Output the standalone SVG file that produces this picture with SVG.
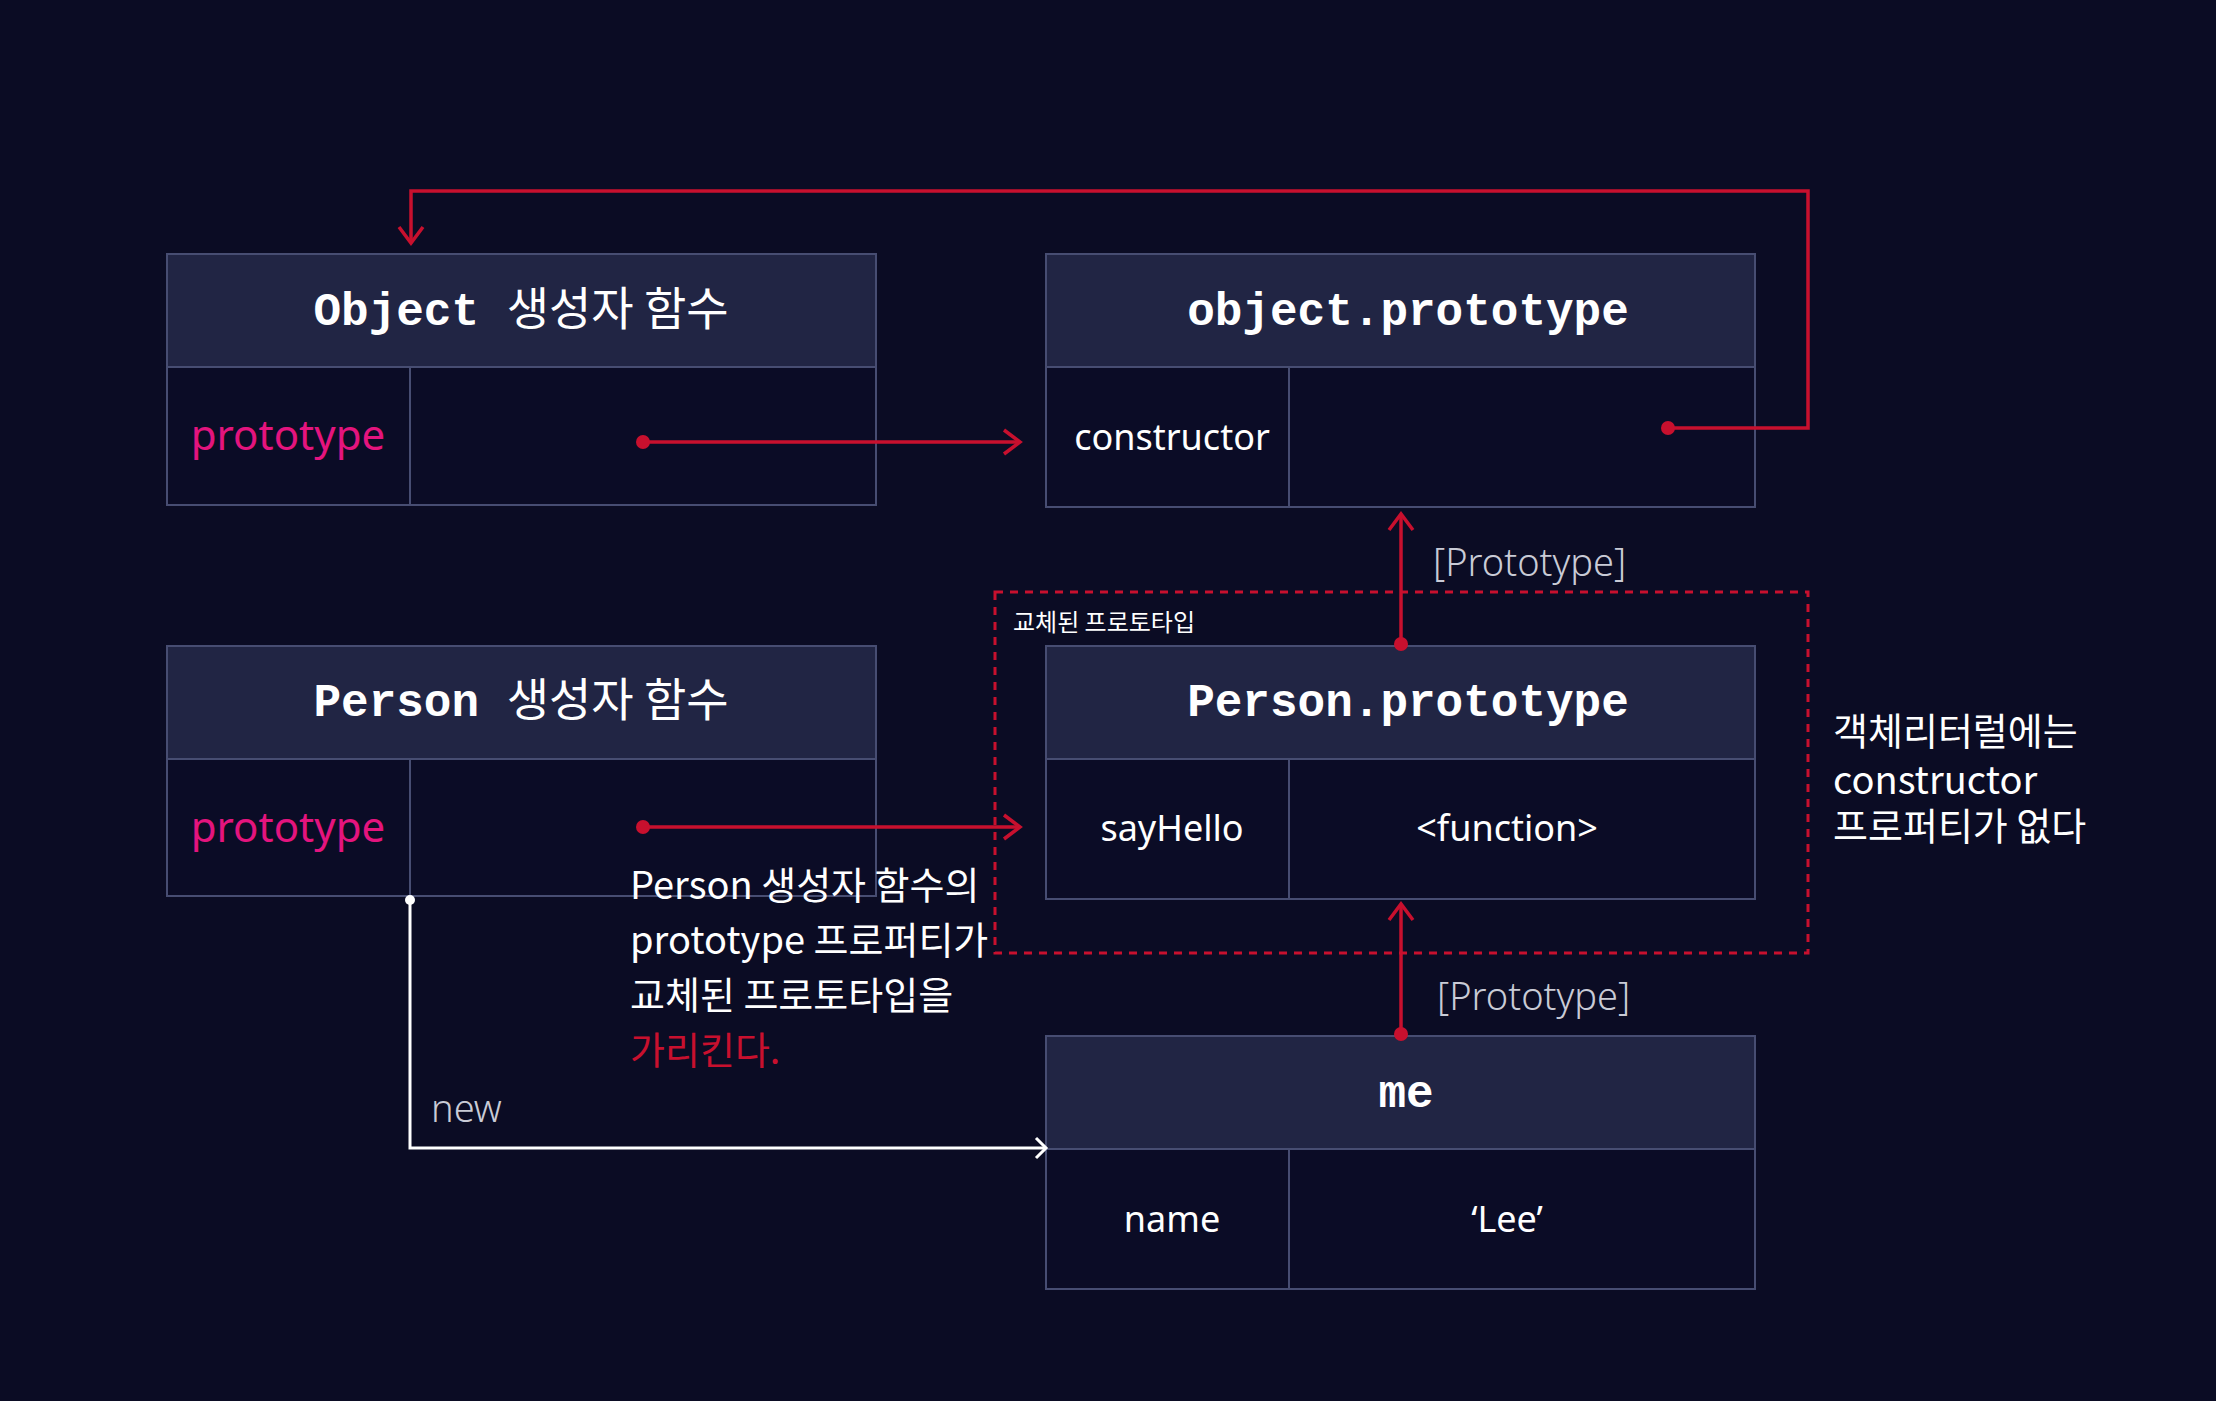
<svg xmlns="http://www.w3.org/2000/svg" width="2216" height="1401" viewBox="0 0 2216 1401">
<defs>
<style>
.box{fill:#0b0c26;stroke:#474d72;stroke-width:2}
.hd{fill:#212544;stroke:#474d72;stroke-width:2}
.ln{stroke:#474d72;stroke-width:2}
.title{font-family:"Liberation Mono","Noto Sans CJK KR",monospace;font-weight:bold;font-size:46px;fill:#fff;text-anchor:middle}
.kr{font-family:"Noto Sans CJK KR",sans-serif;font-weight:normal}
.body{font-family:"Noto Sans","Noto Sans CJK KR",sans-serif;font-size:36px;fill:#fff;text-anchor:middle}
.pink{fill:#e4147e;font-size:42px}
.red{stroke:#c8102e;stroke-width:3.5;fill:none}
.wht{stroke:#fff;stroke-width:3;fill:none}
.lbl{font-family:"Noto Sans",sans-serif;font-size:38px;fill:#c9cbd6;font-weight:300}
.note{font-family:"Noto Sans CJK KR",sans-serif;font-size:38px;fill:#fff}
.hl{fill:#c8102e}
</style>
<marker id="ar" viewBox="-2 -2 24 28" markerWidth="24" markerHeight="28" refX="18" refY="12" orient="auto" markerUnits="userSpaceOnUse" overflow="visible"><path d="M2,0 L18,12 L2,24" fill="none" stroke="#c8102e" stroke-width="3.5"/></marker>
<marker id="aw" viewBox="-2 -2 20 24" markerWidth="20" markerHeight="24" refX="12" refY="10" orient="auto" markerUnits="userSpaceOnUse" overflow="visible"><path d="M2,0 L12,10 L2,20" fill="none" stroke="#fff" stroke-width="3"/></marker>
</defs>
<rect width="2216" height="1401" fill="#0b0c24"/>
<g id="object-ctor">
<rect class="box" x="167" y="254" width="709" height="251"/>
<rect class="hd" x="167" y="254" width="709" height="113"/>
<line class="ln" x1="410" y1="367" x2="410" y2="505"/>
<text class="title" x="521" y="325">Object <tspan class="kr">생성자 함수</tspan></text>
<text class="body pink" x="288" y="450">prototype</text>
</g>
<g id="object-proto">
<rect class="box" x="1046" y="254" width="709" height="253"/>
<rect class="hd" x="1046" y="254" width="709" height="113"/>
<line class="ln" x1="1289" y1="367" x2="1289" y2="507"/>
<text class="title" x="1408" y="325">object.prototype</text>
<text class="body" x="1172" y="450">constructor</text>
</g>
<g id="person-ctor">
<rect class="box" x="167" y="646" width="709" height="250"/>
<rect class="hd" x="167" y="646" width="709" height="113"/>
<line class="ln" x1="410" y1="759" x2="410" y2="896"/>
<text class="title" x="521" y="716">Person <tspan class="kr">생성자 함수</tspan></text>
<text class="body pink" x="288" y="842">prototype</text>
</g>
<g id="person-proto">
<rect class="box" x="1046" y="646" width="709" height="253"/>
<rect class="hd" x="1046" y="646" width="709" height="113"/>
<line class="ln" x1="1289" y1="759" x2="1289" y2="899"/>
<text class="title" x="1408" y="716">Person.prototype</text>
<text class="body" x="1172" y="841">sayHello</text>
<text class="body" x="1507" y="841">&lt;function&gt;</text>
</g>
<g id="me">
<rect class="box" x="1046" y="1036" width="709" height="253"/>
<rect class="hd" x="1046" y="1036" width="709" height="113"/>
<line class="ln" x1="1289" y1="1149" x2="1289" y2="1289"/>
<text class="title" x="1406" y="1107">me</text>
<text class="body" x="1172" y="1232">name</text>
<text class="body" x="1507" y="1232">‘Lee’</text>
</g>
<g id="connectors">
<rect x="995" y="592" width="813" height="361" fill="none" stroke="#c8102e" stroke-width="3" stroke-dasharray="8,7"/>
<circle cx="643" cy="442" r="7" fill="#c8102e"/>
<line class="red" x1="643" y1="442" x2="1020" y2="442" marker-end="url(#ar)"/>
<circle cx="1668" cy="428" r="7" fill="#c8102e"/>
<polyline class="red" points="1668,428 1808,428 1808,191 411,191 411,243" marker-end="url(#ar)"/>
<circle cx="1401" cy="644" r="7" fill="#c8102e"/>
<line class="red" x1="1401" y1="644" x2="1401" y2="514" marker-end="url(#ar)"/>
<circle cx="643" cy="827" r="7" fill="#c8102e"/>
<line class="red" x1="643" y1="827" x2="1020" y2="827" marker-end="url(#ar)"/>
<circle cx="1401" cy="1034" r="7" fill="#c8102e"/>
<line class="red" x1="1401" y1="1034" x2="1401" y2="904" marker-end="url(#ar)"/>
<circle cx="410" cy="900" r="5" fill="#fff"/>
<polyline class="wht" points="410,900 410,1148 1046,1148" marker-end="url(#aw)"/>
</g>
<text class="lbl" x="1433" y="576">[Prototype]</text>
<text class="lbl" x="1437" y="1010">[Prototype]</text>
<text class="lbl" x="431" y="1122" font-size="42">new</text>
<text x="1013" y="631" font-family="Noto Sans CJK KR,sans-serif" font-size="24" fill="#fff">교체된 프로토타입</text>
<text class="note" x="630" y="899">Person 생성자 함수의</text>
<text class="note" x="630" y="954">prototype 프로퍼티가</text>
<text class="note" x="630" y="1009">교체된 프로토타입을</text>
<text class="note hl" x="630" y="1064">가리킨다.</text>
<text class="note" x="1833" y="745">객체리터럴에는</text>
<text class="note" x="1833" y="794">constructor</text>
<text class="note" x="1833" y="840">프로퍼티가 없다</text>
</svg>
